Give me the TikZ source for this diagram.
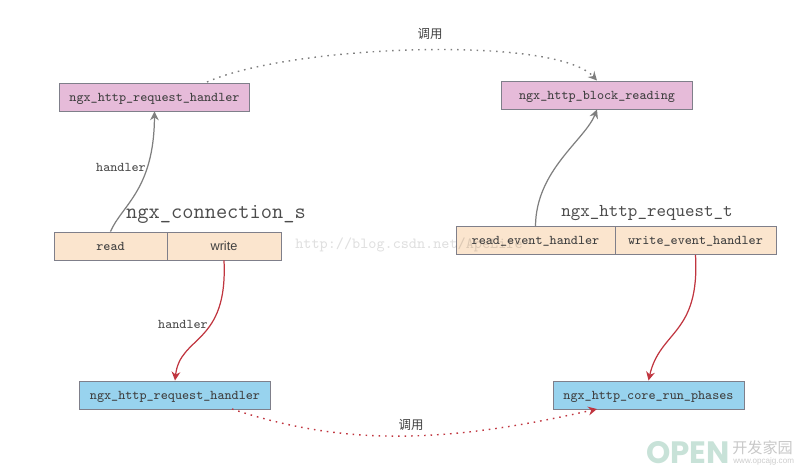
\documentclass[tikz,border=0pt]{standalone}
\usepackage{
	fontspec,
	xcolor
}
\setmonofont{Latin Modern Mono}
\setsansfont{Liberation Sans}
\newfontfamily\cjkfont{Noto Sans CJK SC}
\newfontfamily\openfont{Poppins}
\definecolor{pinkfill}{HTML}{E6BBD9}
\definecolor{cellfill}{HTML}{FBE5CE}
\definecolor{bluefill}{HTML}{98D3EE}
\definecolor{boxline}{HTML}{7F7F8A}
\definecolor{redline}{HTML}{C0353F}
\definecolor{lineg}{HTML}{7F7F7F}
\definecolor{openmint}{HTML}{C8E2D8}
\usetikzlibrary{arrows.meta}
\tikzset{
	box/.style={draw=boxline,line width=.55pt,minimum height=.56cm,inner sep=0pt,text depth=0pt,text=black!75,font=\ttfamily\fontsize{7.6}{9}\selectfont},
	pinkbox/.style={box,fill=pinkfill,minimum width=3.82cm},
	bluebox/.style={box,fill=bluefill,minimum width=3.82cm},
	cellbox/.style={box,fill=cellfill},
	solidlink/.style={line width=.7pt,-{Stealth[length=5pt,width=5pt]}},
	dotlink/.style={line width=.8pt,dash pattern=on .9pt off 2.8pt,-{Stealth[length=5pt,width=5pt]}},
	tag/.style={text=black!70,font=\ttfamily\fontsize{7.6}{9}\selectfont},
	title/.style={text=black!70,font=\ttfamily\fontsize{12.4}{14}\selectfont},
	calltag/.style={text=black!75,font=\cjkfont\fontsize{7.1}{8}\selectfont}
}

\begin{document}
\begin{tikzpicture}[x=.02cm,y=-.02cm]
	\useasboundingbox (0,0) rectangle (799,472);
	% top row
	\node[pinkbox] (handlertop) at (154.5,97) {ngx\_http\_request\_handler};
	\node[pinkbox] (blockread) at (597,95) {ngx\_http\_block\_reading};
	% connection cells
	\node[cellbox,minimum width=2.26cm] (readcell) at (110.5,246) {read};
	\node[cellbox,minimum width=2.28cm] (writecell) at (224,246) {\sffamily\fontsize{7.25}{9}\selectfont write};
	\node[title] (conntitle) at (216,214) {ngx\_connection\_s};
	% request cells
	\node[cellbox,minimum width=3.18cm] (readevent) at (535.5,240.5) {read\_event\_handler};
	\node[cellbox,minimum width=3.22cm] (writeevent) at (695.5,240.5) {write\_event\_handler};
	\node[title,font=\ttfamily\fontsize{10.3}{12}\selectfont] (reqtitle) at (647,213) {ngx\_http\_request\_t};
	% bottom row
	\node[bluebox] (handlerlow) at (175,395) {ngx\_http\_request\_handler};
	\node[bluebox] (runphases) at (648.5,395) {ngx\_http\_core\_run\_phases};
	% links
	\draw[solidlink,lineg] (readcell.north) .. controls (122,205) and (154,190) .. (handlertop.south);
	\draw[solidlink,lineg] (readevent.north) .. controls (536,170) and (585,140) .. (blockread.south);
	\draw[solidlink,redline] (writecell.south) .. controls (228,345) and (180,335) .. (handlerlow.north);
	\draw[solidlink,redline] (writeevent.south) .. controls (700,335) and (660,330) .. (runphases.north);
	\coordinate (callfrom) at (207,82);
	\coordinate (callback) at (232,409);
	\coordinate (callto) at (597,409);
	\draw[dotlink,lineg] (callfrom) .. controls (290,45) and (555,35) .. (blockread.north);
	\draw[dotlink,redline] (callback) .. controls (340,445) and (440,445) .. (callto);
	\node[tag] (handlerup) at (121,167) {handler};
	\node[tag] (handlerdown) at (183,324) {handler};
	\node[calltag] (calltop) at (430,34) {调用};
	\node[calltag] (calllow) at (411,425) {调用};
	% watermarks
	\node[text=black,text opacity=.12,font=\ttfamily\fontsize{8.8}{10}\selectfont,anchor=west,inner sep=0pt] (blogmark) at (295,245) {http://blog.csdn.net/ApeLife};
	\node[text=openmint,font=\openfont\bfseries\fontsize{17.6}{18}\selectfont,anchor=west,inner sep=0pt] (openmark) at (646,453) {OPEN};
	\node[text=black!22,font=\cjkfont\fontsize{8.6}{9}\selectfont,anchor=west,inner sep=0pt] (sitemark) at (732,448) {开发家园};
	\node[text=black!20,font=\sffamily\fontsize{4.6}{5}\selectfont,anchor=west,inner sep=0pt] (sitelink) at (733,461) {www.opcajg.com};
\end{tikzpicture}
\end{document}
